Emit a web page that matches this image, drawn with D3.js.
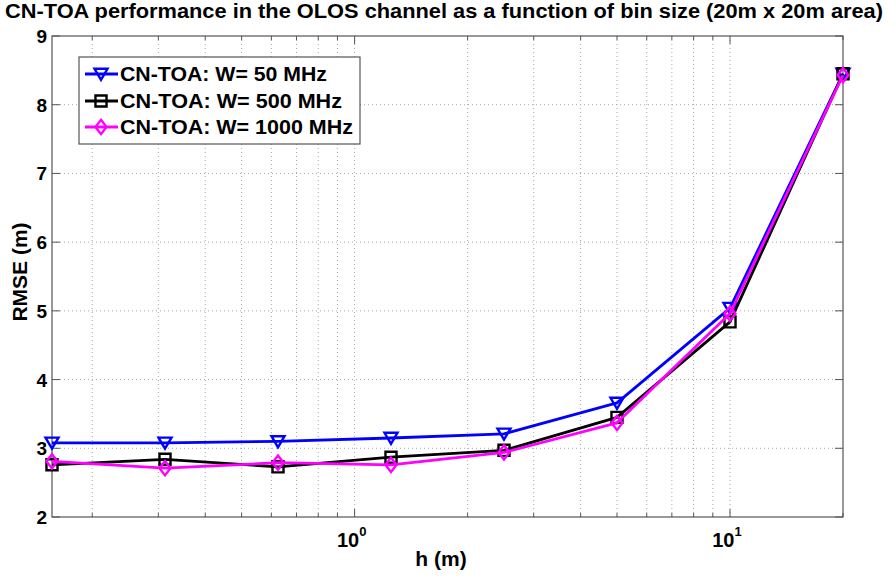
<!DOCTYPE html>
<html>
<head>
<meta charset="utf-8">
<script src="https://cdn.jsdelivr.net/npm/d3@7"></script>
<style>
  body { margin: 0; background: #fff; }
  svg text { font-family: "Liberation Sans", Arial, sans-serif; font-weight: bold; fill: #000; }
</style>
</head>
<body>
<svg id="chart" width="889" height="580"></svg>
<script>
// Bin sizes h (m) and RMSE (m) per bandwidth
const binSizes = [0.15625, 0.3125, 0.625, 1.25, 2.5, 5, 10, 20];
const rmse50 = [3.08, 3.08, 3.10, 3.15, 3.21, 3.66, 5.04, 8.45];
const rmse500 = [2.76, 2.84, 2.73, 2.87, 2.97, 3.45, 4.84, 8.45];
const rmse1000 = [2.81, 2.71, 2.79, 2.76, 2.94, 3.37, 4.96, 8.43];
const seriesNames = ["CN-TOA: W= 50 MHz", "CN-TOA: W= 500 MHz", "CN-TOA: W= 1000 MHz"];
const seriesColors = ["#0000ff", "#000000", "#ff00ff"];
const yTicks = [2, 3, 4, 5, 6, 7, 8, 9];

const svg = d3.select("#chart");
const m = { left: 52, right: 843, top: 36, bottom: 517 };

const x = d3.scaleLog().domain([binSizes[0], binSizes[binSizes.length - 1]]).range([m.left, m.right]);
const y = d3.scaleLinear().domain([2, 9]).range([m.bottom, m.top]);

// minor/major positions for log grid
const logTicks = [];
for (let e = -1; e <= 1; e++) {
  for (let k = 1; k <= 9; k++) {
    const v = k * Math.pow(10, e);
    if (v >= x.domain()[0] - 1e-9 && v <= x.domain()[1] + 1e-9) logTicks.push(v);
  }
}
const majorX = [1, 10];

const grid = svg.append("g");
grid.selectAll(".gx").data(logTicks.filter(v => v > x.domain()[0] && v < x.domain()[1]))
  .join("line")
  .attr("x1", d => x(d)).attr("x2", d => x(d))
  .attr("y1", m.top).attr("y2", m.bottom)
  .attr("stroke", "#a8a8a8").attr("stroke-width", 1).attr("stroke-dasharray", "1,3");
grid.selectAll(".gy").data(yTicks.slice(1, -1))
  .join("line")
  .attr("x1", m.left).attr("x2", m.right)
  .attr("y1", d => y(d)).attr("y2", d => y(d))
  .attr("stroke", "#a8a8a8").attr("stroke-width", 1).attr("stroke-dasharray", "1,3");

// frame
svg.append("rect").attr("x", m.left).attr("y", m.top)
  .attr("width", m.right - m.left).attr("height", m.bottom - m.top)
  .attr("fill", "none").attr("stroke", "#555").attr("stroke-width", 1.2);

// inward ticks on all four sides
const tickG = svg.append("g").attr("stroke", "#555").attr("stroke-width", 1);
logTicks.forEach(v => {
  const len = majorX.includes(v) ? 8 : 4;
  tickG.append("line").attr("x1", x(v)).attr("x2", x(v)).attr("y1", m.bottom).attr("y2", m.bottom - len);
  tickG.append("line").attr("x1", x(v)).attr("x2", x(v)).attr("y1", m.top).attr("y2", m.top + len);
});
yTicks.forEach(v => {
  tickG.append("line").attr("x1", m.left).attr("x2", m.left + 8).attr("y1", y(v)).attr("y2", y(v));
  tickG.append("line").attr("x1", m.right).attr("x2", m.right - 8).attr("y1", y(v)).attr("y2", y(v));
});

// y tick labels
svg.append("g").selectAll("text").data(yTicks).join("text")
  .attr("x", m.left - 5).attr("y", d => y(d) + 7)
  .attr("text-anchor", "end").attr("font-size", 19)
  .text(d => d);

// x tick labels 10^0, 10^1
majorX.forEach(v => {
  const t = svg.append("text").attr("x", x(v) - 3).attr("y", m.bottom + 30)
    .attr("text-anchor", "middle").attr("font-size", 20);
  t.append("tspan").text("10");
  t.append("tspan").attr("dy", -11).attr("font-size", 13).text(String(Math.round(Math.log10(v))));
});

// axis titles
svg.append("text").attr("x", 441).attr("y", 566).attr("text-anchor", "middle")
  .attr("font-size", 21).text("h (m)");
svg.append("text").attr("transform", "translate(27,272) rotate(-90)")
  .attr("text-anchor", "middle").attr("font-size", 21).text("RMSE (m)");
svg.append("text").attr("x", 5).attr("y", 18)
  .attr("font-size", 21).attr("textLength", 878).attr("lengthAdjust", "spacingAndGlyphs")
  .text("CN-TOA performance in the OLOS channel as a function of bin size (20m x 20m area)");

// markers
function marker(g, kind, cx, cy, color) {
  const s = 6.5;
  let p;
  if (kind === "tri") p = `M${cx - s},${cy - s * 0.8}L${cx + s},${cy - s * 0.8}L${cx},${cy + s * 0.9}Z`;
  else if (kind === "sq") p = `M${cx - s * 0.85},${cy - s * 0.85}h${s * 1.7}v${s * 1.7}h${-s * 1.7}Z`;
  else p = `M${cx},${cy - s * 1.1}L${cx + s * 0.85},${cy}L${cx},${cy + s * 1.1}L${cx - s * 0.85},${cy}Z`;
  g.append("path").attr("d", p).attr("fill", "none").attr("stroke", color).attr("stroke-width", 2.4);
}

const allSeries = [rmse50, rmse500, rmse1000];
const kinds = ["tri", "sq", "dia"];
const line = d3.line().x(d => x(d[0])).y(d => y(d[1]));
[0, 1, 2].forEach(i => {
  const pts = binSizes.map((h, j) => [h, allSeries[i][j]]);
  const g = svg.append("g");
  g.append("path").datum(pts).attr("d", line)
    .attr("fill", "none").attr("stroke", seriesColors[i]).attr("stroke-width", 2.8)
    .attr("stroke-linejoin", "round");
  pts.forEach(p => marker(g, kinds[i], x(p[0]), y(p[1]), seriesColors[i]));
});

// legend
const lg = svg.append("g");
lg.append("rect").attr("x", 79).attr("y", 57).attr("width", 281).attr("height", 87)
  .attr("fill", "#fff").attr("stroke", "#555").attr("stroke-width", 1.2);
const legendY = [74, 101, 127];
const legendLen = [207, 222, 233];
seriesNames.forEach((name, i) => {
  lg.append("line").attr("x1", 85).attr("x2", 118).attr("y1", legendY[i]).attr("y2", legendY[i])
    .attr("stroke", seriesColors[i]).attr("stroke-width", 2.8);
  marker(lg, kinds[i], 101, legendY[i], seriesColors[i]);
  lg.append("text").attr("x", 120).attr("y", legendY[i] + 7).attr("font-size", 19.5)
    .attr("textLength", legendLen[i]).attr("lengthAdjust", "spacingAndGlyphs").text(name);
});
</script>
</body>
</html>
